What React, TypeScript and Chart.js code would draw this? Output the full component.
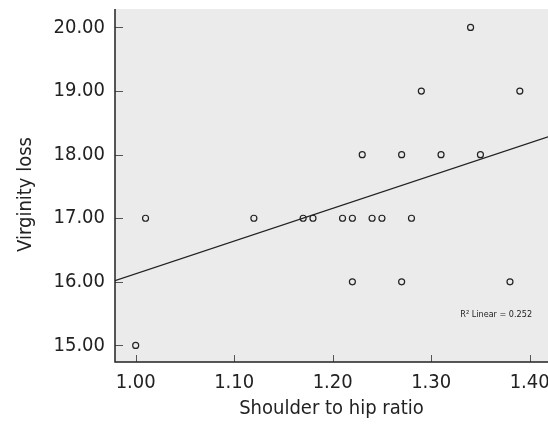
import React, { useEffect, useRef } from "react";
import { Chart, registerables } from "chart.js";

Chart.register(...registerables);

const shoulderHip = [1.00, 1.01, 1.12, 1.17, 1.18, 1.21, 1.22, 1.24, 1.25, 1.28, 1.22, 1.27, 1.38, 1.23, 1.27, 1.31, 1.35, 1.29, 1.39, 1.34];
const virginityLoss = [15, 17, 17, 17, 17, 17, 17, 17, 17, 17, 16, 16, 16, 18, 18, 18, 18, 19, 19, 20];
const trendX = [0.979, 1.4186];
const trendY = [16.02, 18.28];
const xTicks = [1.0, 1.1, 1.2, 1.3, 1.4];
const yTicks = [15, 16, 17, 18, 19, 20];
const xRange = [0.979, 1.4186];
const yRange = [14.74, 20.29];
const xTitle = "Shoulder to hip ratio";
const yTitle = "Virginity loss";
const r2Label = "R² Linear = 0.252";
const r2Pos = [1.366, 15.48];

const FONT = "'Liberation Sans Narrow', 'Arial Narrow', 'DejaVu Sans Condensed', sans-serif";

export default function App() {
  const ref = useRef<HTMLCanvasElement | null>(null);
  useEffect(() => {
    if (!ref.current) return;
    const bgPlugin = {
      id: "bg",
      beforeDraw(chart: any) {
        const { ctx, chartArea } = chart;
        ctx.save();
        ctx.fillStyle = "#ebebeb";
        ctx.fillRect(chartArea.left, chartArea.top, chartArea.right - chartArea.left, chartArea.bottom - chartArea.top);
        ctx.restore();
      },
      afterDraw(chart: any) {
        const { ctx, chartArea } = chart;
        const xs = chart.scales.x;
        const ys = chart.scales.y;
        ctx.save();
        ctx.strokeStyle = "#555";
        ctx.lineWidth = 1;
        xTicks.forEach((v) => {
          const px = Math.round(xs.getPixelForValue(v)) + 0.5;
          ctx.beginPath();
          ctx.moveTo(px, chartArea.bottom);
          ctx.lineTo(px, chartArea.bottom - 7);
          ctx.stroke();
        });
        yTicks.forEach((v) => {
          const py = Math.round(ys.getPixelForValue(v)) + 0.5;
          ctx.beginPath();
          ctx.moveTo(chartArea.left, py);
          ctx.lineTo(chartArea.left + 8, py);
          ctx.stroke();
        });
        ctx.strokeStyle = "#222";
        ctx.lineWidth = 1.5;
        ctx.beginPath();
        ctx.moveTo(chartArea.left, chartArea.top);
        ctx.lineTo(chartArea.left, chartArea.bottom);
        ctx.lineTo(chartArea.right, chartArea.bottom);
        ctx.stroke();

        ctx.fillStyle = "#222";
        ctx.textAlign = "center";
        ctx.textBaseline = "middle";
        ctx.font = "20px " + FONT;
        xTicks.forEach((v) => {
          ctx.fillText(v.toFixed(2), xs.getPixelForValue(v), chartArea.bottom + 21);
        });
        ctx.font = "20px " + FONT;
        ctx.fillText(xTitle, (chartArea.left + chartArea.right) / 2, chartArea.bottom + 47);
        ctx.save();
        ctx.translate(26, (chartArea.top + chartArea.bottom) / 2 + 9);
        ctx.rotate(-Math.PI / 2);
        ctx.fillText(yTitle, 0, 0);
        ctx.restore();

        ctx.font = "9px " + FONT;
        ctx.fillText(r2Label, xs.getPixelForValue(r2Pos[0]), ys.getPixelForValue(r2Pos[1]));
        ctx.restore();
      },
    };
    const chart = new Chart(ref.current, {
      type: "scatter",
      data: {
        datasets: [
          {
            type: "scatter",
            data: shoulderHip.map((x, i) => ({ x, y: virginityLoss[i] })),
            pointStyle: "circle",
            pointRadius: 3,
            pointBorderWidth: 1.2,
            pointBorderColor: "#222",
            pointBackgroundColor: "rgba(0,0,0,0)",
          } as any,
          {
            type: "line",
            data: trendX.map((x, i) => ({ x, y: trendY[i] })),
            borderColor: "#222",
            borderWidth: 1.2,
            pointRadius: 0,
            fill: false,
          } as any,
        ],
      },
      options: {
        animation: false,
        responsive: false,
        devicePixelRatio: 1,
        layout: { autoPadding: false, padding: { top: 9, right: 0, left: 0, bottom: 0 } },
        plugins: { legend: { display: false }, tooltip: { enabled: false } },
        scales: {
          x: {
            type: "linear",
            min: xRange[0],
            max: xRange[1],
            afterBuildTicks: (s: any) => { s.ticks = xTicks.map((v) => ({ value: v })); },
            afterFit: (s: any) => { s.height = 69; s.paddingLeft = 0; s.paddingRight = 0; },
            grid: { display: false, drawTicks: false },
            border: { display: false },
            ticks: { display: false },
            title: { display: false },
          },
          y: {
            type: "linear",
            min: yRange[0],
            max: yRange[1],
            afterBuildTicks: (s: any) => { s.ticks = yTicks.map((v) => ({ value: v })); },
            afterFit: (s: any) => { s.width = 115; s.paddingTop = 0; s.paddingBottom = 0; },
            grid: { display: false, drawTicks: false },
            border: { display: false },
            ticks: {
              color: "#222",
              font: { family: FONT, size: 20 },
              padding: 10,
              autoSkip: false,
              callback: (v: any) => Number(v).toFixed(2),
            },
            title: { display: false },
          },
        },
      },
      plugins: [bgPlugin],
    });
    return () => chart.destroy();
  }, []);
  return (
    <div style={{ position: "fixed", left: 0, top: 0, width: 548, height: 431, background: "#fff" }}>
      <canvas ref={ref} width={548} height={431} style={{ width: 548, height: 431, display: "block" }} />
    </div>
  );
}
